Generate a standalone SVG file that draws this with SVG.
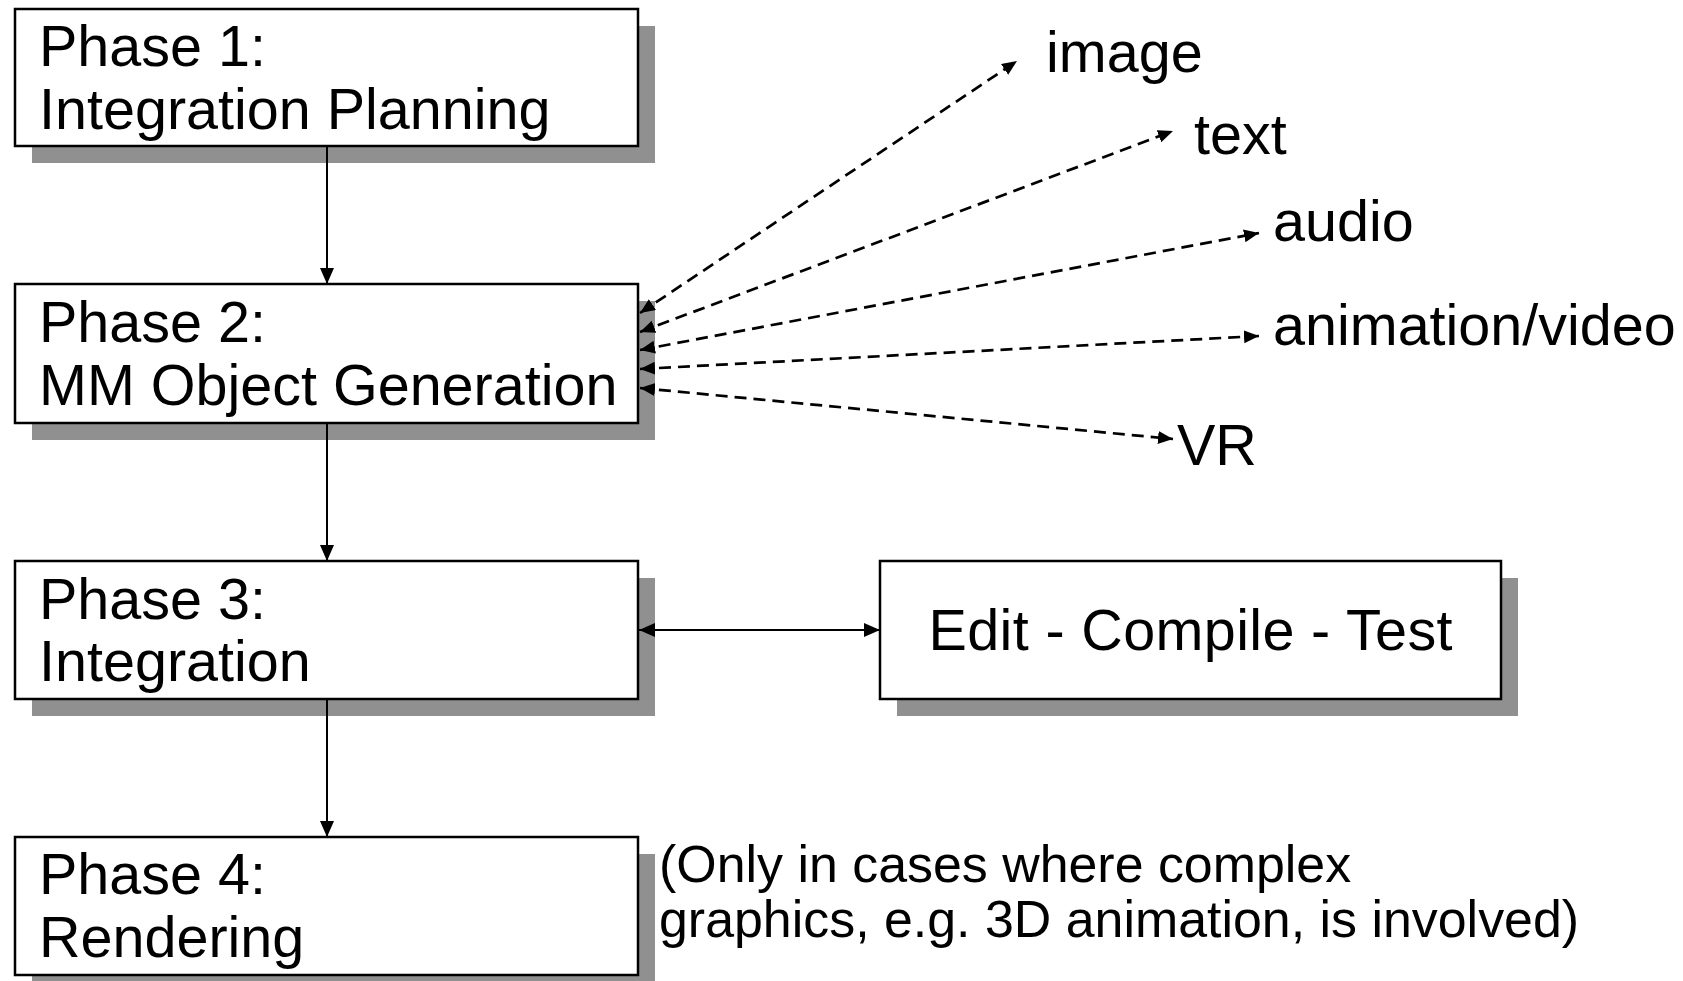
<svg xmlns="http://www.w3.org/2000/svg" width="1683" height="981" viewBox="0 0 1683 981">
<style>
.shadow{fill:#909090;stroke:none}
.box{fill:#ffffff;stroke:#000000;stroke-width:2.5}
.t{font-family:"Liberation Sans",Arial,sans-serif;font-size:57.5px;fill:#000000}
.note{font-family:"Liberation Sans",Arial,sans-serif;font-size:51.9px;fill:#000000}
.solid{stroke:#000000;stroke-width:2;fill:none}
.dash{stroke:#000000;stroke-width:2.7;fill:none;stroke-dasharray:12 7}
</style>
<defs>
<marker id="ah" markerUnits="userSpaceOnUse" markerWidth="18" markerHeight="16" refX="16" refY="7" orient="auto-start-reverse">
<path d="M0,0 L16,7 L0,14 Z" fill="#000000"/>
</marker>
<marker id="ahs" markerUnits="userSpaceOnUse" markerWidth="17" markerHeight="15" refX="15" refY="6.5" orient="auto-start-reverse">
<path d="M0,0 L15,6.5 L0,13 Z" fill="#000000"/>
</marker>
</defs>
<rect width="1683" height="981" fill="#ffffff"/>
<g id="phase1">
<rect class="shadow" x="32" y="26" width="623" height="137"/>
<rect class="box" x="15" y="9" width="623" height="137"/>
<text class="t" x="39" y="66">Phase 1:</text>
<text class="t" x="39" y="129">Integration Planning</text>
</g>
<g id="phase2">
<rect class="shadow" x="32" y="301" width="623" height="139"/>
<rect class="box" x="15" y="284" width="623" height="139"/>
<text class="t" x="39" y="342">Phase 2:</text>
<text class="t" x="39" y="405">MM Object Generation</text>
</g>
<g id="phase3">
<rect class="shadow" x="32" y="578" width="623" height="138"/>
<rect class="box" x="15" y="561" width="623" height="138"/>
<text class="t" x="39" y="619">Phase 3:</text>
<text class="t" x="39" y="681">Integration</text>
</g>
<g id="phase4">
<rect class="shadow" x="32" y="854" width="623" height="138"/>
<rect class="box" x="15" y="837" width="623" height="138"/>
<text class="t" x="39" y="894">Phase 4:</text>
<text class="t" x="39" y="957">Rendering</text>
</g>
<g id="ect">
<rect class="shadow" x="897" y="578" width="621" height="138"/>
<rect class="box" x="880" y="561" width="621" height="138"/>
<text class="t" x="1190.5" y="650" text-anchor="middle" textLength="524">Edit - Compile - Test</text>
</g>
<g id="labels">
<text class="t" x="1046" y="72">image</text>
<text class="t" x="1194" y="154">text</text>
<text class="t" x="1273" y="241">audio</text>
<text class="t" x="1273" y="345">animation/video</text>
<text class="t" x="1177" y="465">VR</text>
</g>
<g id="note">
<text class="note" x="659" y="882">(Only in cases where complex</text>
<text class="note" x="659" y="937">graphics, e.g. 3D animation, is involved)</text>
</g>
<g id="connectors">
<line class="solid" x1="327" y1="146" x2="327" y2="284" marker-end="url(#ah)"/>
<line class="solid" x1="327" y1="423" x2="327" y2="561" marker-end="url(#ah)"/>
<line class="solid" x1="327" y1="699" x2="327" y2="837" marker-end="url(#ah)"/>
<line class="solid" x1="639" y1="630" x2="880" y2="630" marker-start="url(#ah)" marker-end="url(#ah)"/>
<line class="dash" x1="640" y1="313" x2="1017" y2="61" marker-start="url(#ahs)" marker-end="url(#ahs)"/>
<line class="dash" x1="640" y1="332" x2="1173" y2="131" marker-start="url(#ahs)" marker-end="url(#ahs)"/>
<line class="dash" x1="640" y1="350" x2="1259" y2="233" marker-start="url(#ahs)" marker-end="url(#ahs)"/>
<line class="dash" x1="640" y1="369" x2="1259" y2="336" marker-start="url(#ahs)" marker-end="url(#ahs)"/>
<line class="dash" x1="640" y1="388" x2="1173" y2="439" marker-start="url(#ahs)" marker-end="url(#ahs)"/>
</g>
</svg>
